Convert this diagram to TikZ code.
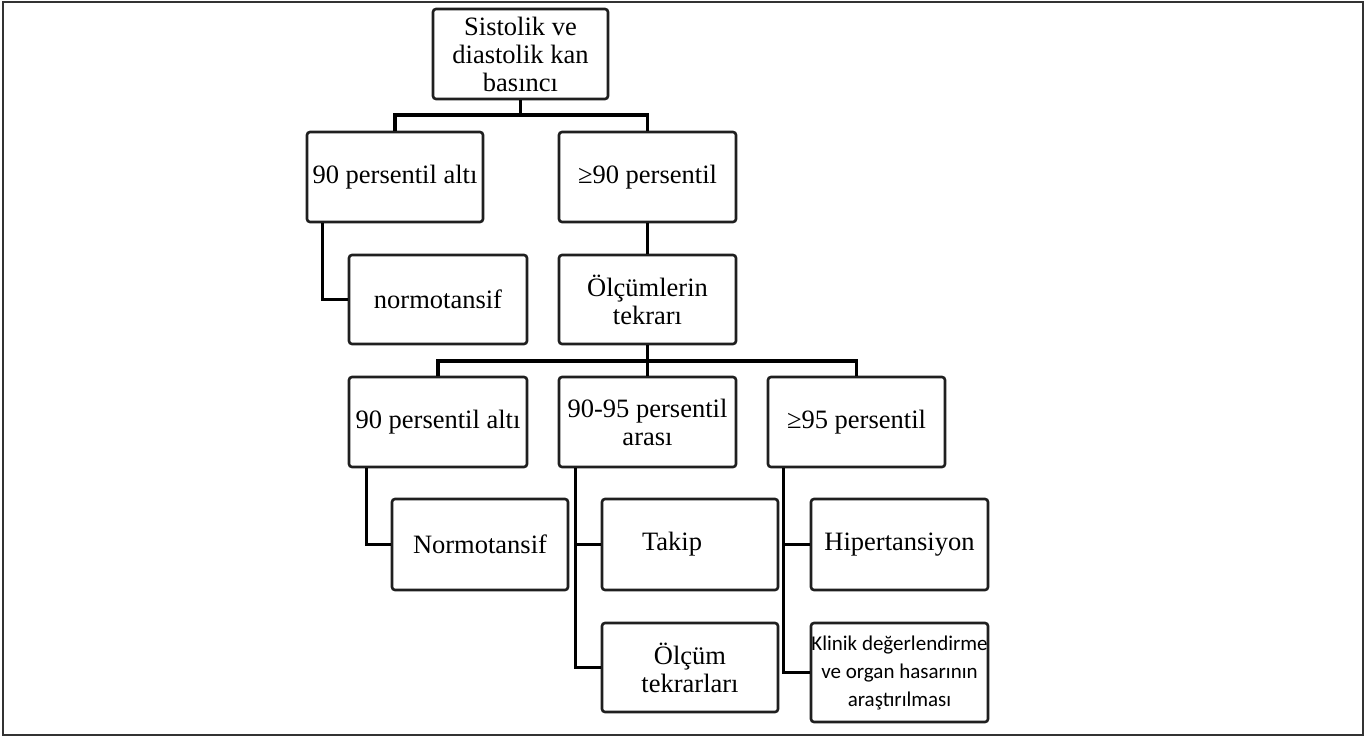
\documentclass[tikz,border=0pt]{standalone}
\usepackage{fontspec}
\setmainfont{Liberation Serif}
\newfontfamily\calfont{Carlito}
\begin{document}
\begin{tikzpicture}[x=1pt,y=-1pt,
  box/.style={draw=black!88, line width=2.6pt, rounded corners=3pt, fill=white,
    align=center, inner sep=0pt, font=\fontsize{26.5}{28}\selectfont,
    minimum width=177pt, minimum height=90pt},
  conn/.style={draw=black, line width=3.2pt},
]
\useasboundingbox (0,0) rectangle (1366,737);
\draw[black!80, line width=2pt] (3,2) rectangle (1363,735);

\node[box, minimum width=175pt] (top) at (520.5,54) {Sistolik ve\\diastolik kan\\basıncı};
\node[box, minimum width=176pt] (r1L) at (395,177) {90 persentil altı};
\node[box] (r1R) at (647.5,177) {≥90 persentil};
\node[box, minimum width=178pt, minimum height=89pt] (r2L) at (438,299.5) {normotansif};
\node[box, minimum height=89pt] (r2R) at (647.5,299.5) {Ölçümlerin\\tekrarı};
\node[box, minimum width=178pt] (r3a) at (438,422) {90 persentil altı};
\node[box] (r3b) at (647.5,422) {90-95 persentil\\arası};
\node[box] (r3c) at (856.5,422) {≥95 persentil};
\node[box, minimum width=176pt, minimum height=91pt] (r4a) at (480,544.5) {Normotansif};
\node[box, minimum width=176pt, minimum height=91pt] (r4b) at (690,544.5) {\hspace*{-36pt}Takip};
\node[box, minimum height=91pt] (r4c) at (899.5,544.5) {Hipertansiyon};
\node[box, minimum width=176pt, minimum height=89pt] (r5b) at (690,667.5) {Ölçüm\\tekrarları};
\node[box, minimum height=99pt, font=\calfont\fontsize{21}{28}\selectfont] (r5c) at (899.5,672.5) {Klinik değerlendirme\\ve organ hasarının\\araştırılması};

\coordinate (j1) at (520.5,115);
\coordinate (j2) at (647.5,361);

\draw[conn] (top.south) -- (j1);
\draw[conn] (r1L.north) |- (j1) -| (r1R.north);
\draw[conn] ([xshift=17pt]r1L.south west) |- (r2L.west);
\draw[conn] (r1R.south) -- (r2R.north);
\draw[conn] (r2R.south) -- (j2);
\draw[conn] (r3a.north) |- (j2) -| (r3c.north);
\draw[conn] (j2) -- (r3b.north);
\draw[conn] ([xshift=19pt]r3a.south west) |- (r4a.west);
\draw[conn] ([xshift=18pt]r3b.south west) |- (r4b.west);
\draw[conn] ([xshift=18pt]r3b.south west) |- (r5b.west);
\draw[conn] ([xshift=17pt]r3c.south west) |- (r4c.west);
\draw[conn] ([xshift=17pt]r3c.south west) |- (r5c.west);
\end{tikzpicture}
\end{document}
